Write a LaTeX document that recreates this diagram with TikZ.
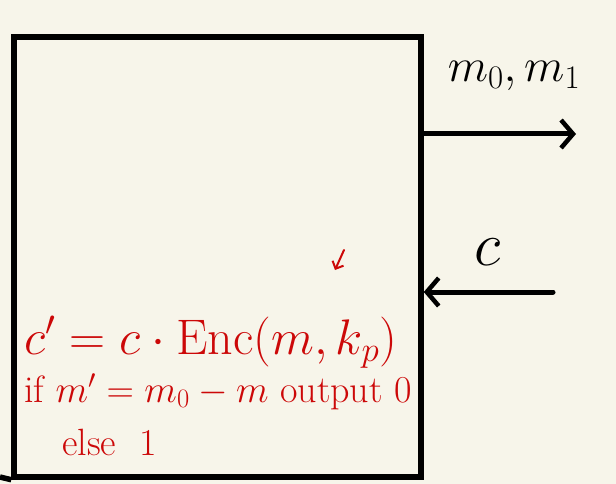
\RequirePackage{fix-cm}
\documentclass[tikz,border=0pt]{standalone}
\usepackage{amsmath}
\usetikzlibrary{arrows.meta,positioning}
\definecolor{paper}{RGB}{247,245,234}
\definecolor{ink}{RGB}{204,8,8}
\tikzset{
  frame/.style={draw, line width=5.5pt, minimum width=407pt, minimum height=440pt, inner sep=0pt},
  arr/.style={-{Straight Barb[length=12pt,width=28pt,line width=4.5pt]}, line width=5pt, line cap=round},
  rarr/.style={-{Straight Barb[length=6pt,width=12pt]}, line width=2pt, ink, line cap=round},
  lbl/.style={font=\fontsize{47}{52}\selectfont, inner sep=0pt},
  note/.style={font=\fontsize{38}{44}\selectfont, text=ink, inner sep=0pt, anchor=base west},
}
\begin{document}
\begin{tikzpicture}[x=1pt,y=-1pt]
\fill[paper] (0,0) rectangle (616,484);
\useasboundingbox (0,0) rectangle (616,484);
\node[frame] (box) at (217.5,257) {};
\coordinate (out) at (576,134);
\coordinate (in) at (553,292);
\coordinate (floor) at (0,477);
\draw[line width=5.5pt] (box.south west) -- (floor);
\draw[arr] (box.east |- out) -- (out);
\draw[arr] (in) -- (box.east |- in);
\node[lbl] (outs) at (514,76) {$m_0, m_1$};
\node[lbl, font=\fontsize{62}{66}\selectfont] (cin) at (488,252) {$c$};
\node[note, font=\fontsize{50}{56}\selectfont] (eqn) at (24,354) {$c' = c \cdot \mathrm{Enc}(m, k_p)$};
\node[note] (test) at (24,402) {if $m' = m_0 - m$ output 0};
\node[note] (other) at (62,455) {else\ \ 1};
\coordinate (hint) at (344,250);
\draw[rarr] (hint) -- (335,270);
\end{tikzpicture}
\end{document}
